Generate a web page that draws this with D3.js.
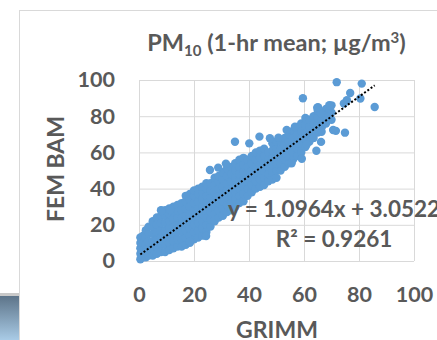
<!DOCTYPE html>
<html lang="en">

<head>
    <meta charset="UTF-8" />
    <title>PM10 GRIMM vs FEM BAM</title>
    <script src="https://cdn.jsdelivr.net/npm/d3@7"></script>
    <style>
        body { margin: 0; background: #fff; }
        text { font-family: Lato, "Open Sans", sans-serif; font-weight: bold; fill: #595959; }
    </style>
</head>

<body>
<script>
    // GRIMM readings (x) and FEM BAM readings (y)
    let grimm = [
        0.5, 0.5, 0.5, 0.5, 0.5,
        1.5, 1.5, 1.5, 1.5,
        2.5, 2.5, 2.5, 2.5, 2.5,
        3.5, 3.5, 3.5, 3.5, 3.5,
        5, 5, 5, 5, 5, 5,
        6.5, 6.5, 6.5, 6.5, 6.5, 6.5,
        8, 8, 8, 8, 8, 8, 8,
        9.5, 9.5, 9.5, 9.5, 9.5, 9.5, 9.5,
        11, 11, 11, 11, 11, 11, 11,
        12.5, 12.5, 12.5, 12.5, 12.5, 12.5, 12.5,
        14, 14, 14, 14, 14, 14, 14,
        15.5, 15.5, 15.5, 15.5, 15.5, 15.5, 15.5,
        17, 17, 17, 17, 17, 17, 17, 17,
        18.5, 18.5, 18.5, 18.5, 18.5, 18.5, 18.5, 18.5,
        20, 20, 20, 20, 20, 20, 20, 20,
        21.5, 21.5, 21.5, 21.5, 21.5, 21.5, 21.5, 21.5,
        23, 23, 23, 23, 23, 23, 23, 23,
        24.5, 24.5, 24.5, 24.5, 24.5, 24.5, 24.5, 24.5,
        26, 26, 26, 26, 26, 26, 26,
        27.5, 27.5, 27.5, 27.5, 27.5, 27.5, 27.5,
        29, 29, 29, 29, 29, 29, 29,
        30.5, 30.5, 30.5, 30.5, 30.5, 30.5, 30.5,
        32, 32, 32, 32, 32, 32, 32,
        33.5, 33.5, 33.5, 33.5, 33.5, 33.5, 33.5,
        35, 35, 35, 35, 35, 35, 35,
        36.5, 36.5, 36.5, 36.5, 36.5, 36.5, 36.5,
        38, 38, 38, 38, 38, 38, 38,
        39.5, 39.5, 39.5, 39.5, 39.5, 39.5,
        41, 41, 41, 41, 41, 41,
        42.5, 42.5, 42.5, 42.5, 42.5, 42.5,
        44, 44, 44, 44, 44, 44,
        45.5, 45.5, 45.5, 45.5, 45.5, 45.5,
        47, 47, 47, 47, 47,
        48.5, 48.5, 48.5, 48.5, 48.5, 48.5,
        50, 50, 50, 50, 50, 50,
        51.5, 51.5, 51.5, 51.5, 51.5,
        53, 53, 53, 53, 53,
        54.5, 54.5, 54.5, 54.5, 54.5,
        56, 56, 56, 56, 56,
        57.5, 57.5, 57.5, 57.5, 57.5,
        59, 59, 59, 59, 59,
        60.5, 60.5, 60.5, 60.5, 60.5,
        62, 62, 62, 62,
        63.5, 63.5, 63.5, 63.5,
        65, 65, 65, 65,
        66.5, 66.5, 66.5,
        68, 68, 68,
        70, 70, 70,
        // scattered points
        71.9, 81, 76.8, 80.5, 85.7, 59.6, 65.1, 69.2, 75.6, 74.5,
        71.6, 74.9, 66.2, 64.5, 34.9, 40.1, 43.8, 47.6, 50.7, 53.7,
        56.7, 25.8, 28.8, 31.6, 8.2, 11.3, 68.8, 66.4, 70.6, 57.9,
        59.2, 55.5, 24.4, 18.5, 67, 66.2, 61, 64.8
    ];
    let femBam = [
        1, 4, 7, 10, 13,
        2, 6, 10, 14,
        2, 5, 9, 13, 17,
        3, 7, 11, 15, 19,
        3, 7, 11, 15, 19, 22,
        4, 8, 12, 16, 20, 24,
        5, 9, 13, 17, 21, 25, 28,
        5, 9, 13, 17, 21, 25, 28,
        6, 10, 14, 18, 22, 26, 29,
        7, 11, 15, 19, 23, 27, 30,
        8, 12, 16, 20, 24, 28, 31,
        8, 12, 16, 20, 24, 28, 32,
        9, 13, 17, 21, 25, 29, 33, 36,
        10, 14, 18, 22, 26, 30, 34, 37,
        12, 16, 20, 24, 28, 32, 36, 39,
        13, 17, 21, 25, 29, 33, 37, 40,
        14, 18, 22, 26, 30, 34, 38, 41,
        16, 20, 24, 28, 32, 36, 40, 43,
        19, 23, 27, 31, 35, 39, 43,
        22, 26, 30, 34, 38, 42, 46,
        24, 28, 32, 36, 40, 44, 47,
        25, 29, 33, 37, 41, 45, 49,
        27, 31, 35, 39, 43, 47, 51,
        28, 32, 36, 40, 44, 48, 52,
        30, 34, 38, 42, 46, 50, 54,
        32, 36, 40, 44, 48, 52, 56,
        33, 37, 41, 45, 49, 53, 57,
        36, 40, 44, 48, 52, 56,
        38, 42, 46, 50, 54, 58,
        40, 44, 48, 52, 56, 60,
        41, 45, 49, 53, 57, 61,
        42, 46, 50, 54, 58, 62,
        44, 48, 52, 56, 60,
        45, 49, 53, 57, 61, 65,
        46, 50, 54, 58, 62, 66,
        50, 54, 58, 62, 66,
        52, 56, 60, 64, 68,
        54, 58, 62, 66, 70,
        56, 60, 64, 68, 72,
        58, 62, 66, 70, 74,
        60, 64, 68, 72, 76,
        63, 67, 71, 75, 79,
        66, 70, 74, 78,
        68, 72, 76, 80,
        71, 75, 79, 83,
        74, 78, 82,
        76, 80, 84,
        78, 82, 86,
        98.8, 98, 92.8, 89.8, 85.1, 89.9, 85, 86.1, 88.8, 87,
        71.9, 70.9, 65.8, 60.9, 65.9, 65, 68.7, 67.8, 68.1, 72.4,
        74.2, 50.3, 51.6, 53.8, 27.8, 28.2, 81.6, 71.4, 72.4, 65,
        56.5, 54, 13.8, 10.7, 81, 81.6, 64.5, 84.7
    ];

    let xTicks = [0, 20, 40, 60, 80, 100];
    let yTicks = [0, 20, 40, 60, 80, 100];
    let slope = 1.0964;
    let intercept = 3.0522;
    let equationText = "y = 1.0964x + 3.0522";
    let r2Text = "R² = 0.9261";

    let w = 437;
    let h = 340;

    let svg = d3.select("body").append("svg")
        .attr("width", w)
        .attr("height", h);

    // chart frame and the neighbouring picture cut off at the left
    svg.append("rect")
        .attr("x", 19.5).attr("y", 10.5)
        .attr("width", 500).attr("height", 400)
        .attr("fill", "#fff").attr("stroke", "#d9d9d9");

    let grad = svg.append("defs").append("linearGradient")
        .attr("id", "side").attr("x1", 0).attr("y1", 0).attr("x2", 0).attr("y2", 1);
    grad.append("stop").attr("offset", "0%").attr("stop-color", "#5d7489");
    grad.append("stop").attr("offset", "100%").attr("stop-color", "#a9cbe6");
    svg.append("rect").attr("x", 0).attr("y", 293).attr("width", 19).attr("height", 3).attr("fill", "#c9c9c9");
    svg.append("rect").attr("x", 0).attr("y", 296).attr("width", 19).attr("height", 44).attr("fill", "url(#side)");

    let x = d3.scaleLinear().domain([0, 100]).range([139, 414]);
    let y = d3.scaleLinear().domain([0, 100]).range([261, 80]);

    // gridlines + tick labels
    let yAxis = svg.append("g")
        .attr("transform", `translate(${x(0)},0)`)
        .call(d3.axisLeft(y).tickValues(yTicks).tickSize(-(x(100) - x(0))).tickPadding(24));
    let xAxis = svg.append("g")
        .attr("transform", `translate(0,${y(0)})`)
        .call(d3.axisBottom(x).tickValues(xTicks).tickSize(-(y(0) - y(100))).tickPadding(26));

    [xAxis, yAxis].forEach(a => {
        a.select(".domain").remove();
        a.selectAll("line").attr("stroke", "#d9d9d9");
        a.selectAll("text")
            .attr("font-family", null)
            .attr("fill", null)
            .style("font-size", "21.5px");
    });

    // points
    let pts = grimm.map((g, i) => [g, femBam[i]]);
    svg.append("g")
        .selectAll("circle")
        .data(pts)
        .enter()
        .append("circle")
        .attr("cx", d => x(d[0]))
        .attr("cy", d => y(d[1]))
        .attr("r", 4.2)
        .attr("fill", "#5b9bd5");

    // linear trendline
    let x0 = d3.min(grimm), x1 = d3.max(grimm);
    svg.append("line")
        .attr("x1", x(x0)).attr("y1", y(slope * x0 + intercept))
        .attr("x2", x(x1)).attr("y2", y(slope * x1 + intercept))
        .attr("stroke", "#000")
        .attr("stroke-width", 2)
        .attr("stroke-dasharray", "2 2");

    // equation label
    svg.append("text").attr("x", 334).attr("y", 216.5)
        .attr("text-anchor", "middle").style("font-size", "22.5px").text(equationText);
    svg.append("text").attr("x", 334).attr("y", 246.5)
        .attr("text-anchor", "middle").style("font-size", "22.5px").text(r2Text);

    // title
    let title = svg.append("text")
        .attr("x", 276.5).attr("y", 51)
        .attr("text-anchor", "middle")
        .style("font-size", "23.5px");
    title.append("tspan").text("PM");
    title.append("tspan").attr("dy", 5).style("font-size", "15px").text("10");
    title.append("tspan").attr("dy", -5).text(" (1-hr mean; µg/m");
    title.append("tspan").attr("dy", -8).style("font-size", "15px").text("3");
    title.append("tspan").attr("dy", 8).text(")");

    // axis titles
    svg.append("text").attr("x", 277).attr("y", 338)
        .attr("text-anchor", "middle").style("font-size", "23px").text("GRIMM");
    svg.append("text")
        .attr("transform", "translate(64,169) rotate(-90)")
        .attr("text-anchor", "middle").style("font-size", "23px").text("FEM BAM");
</script>
</body>

</html>
